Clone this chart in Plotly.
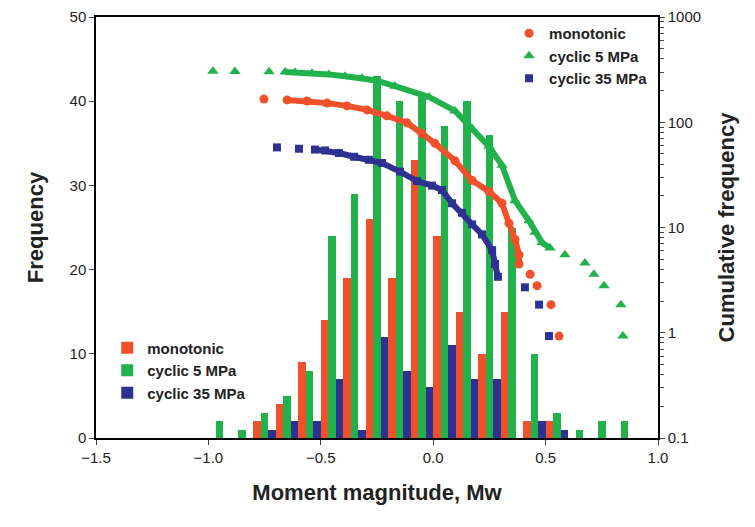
import plotly.graph_objects as go

bins = [-0.95,-0.85,-0.75,-0.65,-0.55,-0.45,-0.35,-0.25,-0.15,-0.05,0.05,0.15,0.25,0.35,0.45,0.55,0.65,0.75,0.85]
freq_mono = [0,0,2,4,9,14,19,26,19,33,24,15,10,15,2,2,0,0,0]
freq_c5   = [2,1,3,5,8,24,29,43,40,41,37,40,36,25,10,3,1,2,2]
freq_c35  = [0,0,1,2,2,7,1,12,8,6,11,7,7,0,2,1,0,0,0]

mono_M = [-0.753,-0.65,-0.561,-0.472,-0.383,-0.294,-0.206,-0.117,-0.05,0.008,0.097,0.173,0.248,0.306,0.337,0.364,0.382,0.382,0.431,0.462,0.524,0.56]
mono_N = [166,163,159,152,143,131,115,99,78,63,43,28,22,17,11,7.7,5.5,4.5,3.6,2.8,1.85,0.93]
c5_M = [-0.98,-0.882,-0.73,-0.659,-0.615,-0.539,-0.464,-0.392,-0.317,-0.259,-0.17,-0.019,0.097,0.173,0.248,0.306,0.364,0.426,0.453,0.484,0.52,0.586,0.675,0.715,0.76,0.835,0.844]
c5_N = [305,304,302,300,298,292,285,273,262,251,220,174,128,87,59,39,18,11.6,9,7.2,6.4,5.5,4.6,3.6,2.8,1.85,0.93]
c35_M = [-0.695,-0.597,-0.526,-0.481,-0.419,-0.352,-0.286,-0.228,-0.148,-0.072,-0.005,0.039,0.084,0.128,0.173,0.217,0.262,0.275,0.288,0.408,0.471,0.515]
c35_N = [57.7,56,55,54,51,47,44,41,34,27.6,25,22.7,17,13.8,10.7,8.6,6.1,4.5,3.4,2.7,1.85,0.93]

minor_vals = [m * 10 ** d for d in range(-1, 3) for m in range(2, 10)]

OR, GR, BL = "#f0502a", "#22b24c", "#2e3192"
fig = go.Figure()
for name, vals, c in [("monotonic", freq_mono, OR), ("cyclic 5 MPa", freq_c5, GR), ("cyclic 35 MPa", freq_c35, BL)]:
    fig.add_bar(x=bins, y=vals, name=name, marker=dict(color=c, line_width=0), legend="legend")

for name, M, N, c, sym, sz, a, b in [("monotonic", mono_M, mono_N, OR, "circle", 9, 1, 18),
                                     ("cyclic 5 MPa", c5_M, c5_N, GR, "triangle-up", 10, 3, 21),
                                     ("cyclic 35 MPa", c35_M, c35_N, BL, "square", 8, 2, 19)]:
    fig.add_scatter(x=M[a:b], y=N[a:b], mode="lines", line=dict(color=c, width=6),
                    yaxis="y2", showlegend=False)
    fig.add_scatter(x=M, y=N, mode="markers", name=name, marker=dict(color=c, symbol=sym, size=sz),
                    yaxis="y2", legend="legend2")

fig.update_layout(
    width=755, height=527, margin=dict(l=88, r=105, t=9, b=97, autoexpand=False),
    paper_bgcolor="white", plot_bgcolor="white",
    barmode="group", bargap=0, bargroupgap=0,
    font=dict(family="Liberation Sans, Arial", size=15, color="#222"),
    xaxis=dict(range=[-1.5, 1.0], dtick=0.5, tickformat=".1f", showline=True, linecolor="black", linewidth=1.5,
               mirror=True, ticks="outside", showgrid=False, zeroline=False, automargin=False,
               title=dict(text="<b>Moment magnitude, Mw</b>", font=dict(size=22), standoff=20)),
    yaxis=dict(range=[0, 50], dtick=10, showline=True, linecolor="black", linewidth=1.5, ticks="outside",
               showgrid=False, zeroline=False, automargin=False,
               title=dict(text="<b>Frequency</b>", font=dict(size=22), standoff=20)),
    yaxis2=dict(type="log", range=[-1, 3], overlaying="y", side="right", showline=True, linecolor="black",
                linewidth=1.5, ticks="outside", showgrid=False, tickvals=[0.1, 1, 10, 100, 1000], automargin=False,
                ticktext=["0.1", "1", "10", "100", "1000"],
                minor=dict(ticks="outside", ticklen=4, tickvals=minor_vals, showgrid=False),
                title=dict(text="<b>Cumulative frequency</b>", font=dict(size=22), standoff=18)),
    legend=dict(x=0.02, y=0.253, xanchor="left", yanchor="top", bgcolor="rgba(0,0,0,0)",
                font=dict(size=15, family="Liberation Sans, Arial", weight="bold"), tracegroupgap=0, itemsizing="constant"),
    legend2=dict(x=0.735, y=1.0, xanchor="left", yanchor="top", bgcolor="rgba(0,0,0,0)",
                 font=dict(size=15, family="Liberation Sans, Arial", weight="bold")),
)
fig.write_html("out.html")
